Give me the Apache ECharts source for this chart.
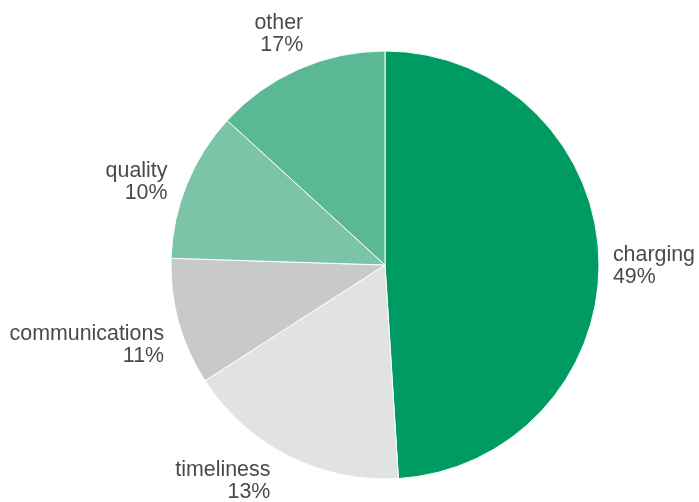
<!DOCTYPE html>
<html>
<head>
<meta charset="utf-8">
<script src="https://cdn.jsdelivr.net/npm/echarts@6/dist/echarts.min.js"></script>
<style>
html, body { margin: 0; padding: 0; background: #ffffff; }
#chart { width: 699px; height: 502px; }
</style>
</head>
<body>
<div id="chart"></div>
<script>
// Slice categories, clockwise from 12 o'clock
var categories = ['charging', 'timeliness', 'communications', 'quality', 'other'];
var sliceValues = [49, 16.9, 9.6, 11.3, 13.2];
// Percentage text printed next to each slice in the original
var percentLabels = ['49%', '13%', '11%', '10%', '17%'];

var colors = ['#009a63', '#e1e2e3', '#c8c9cb', '#7cc4a7', '#5ab895'];
// Small nudges of each label from the library's default outside position
var labelNudge = [[0, 8], [-9, 17], [-1, 21], [-6, 1], [13, -27]];

var chart = echarts.init(document.getElementById('chart'), null, { renderer: 'canvas' });

var data = categories.map(function (name, i) {
  return { name: name, value: sliceValues[i], itemStyle: { color: colors[i] } };
});

chart.setOption({
  animation: false,
  backgroundColor: '#ffffff',
  series: [{
    type: 'pie',
    center: [385, 265],
    radius: 214,
    startAngle: 90,
    clockwise: true,
    avoidLabelOverlap: false,
    data: data,
    itemStyle: { borderColor: '#ffffff', borderWidth: 1 },
    label: {
      show: true,
      position: 'outside',
      formatter: function (p) { return p.name + '\n' + percentLabels[p.dataIndex]; },
      fontFamily: 'Liberation Sans',
      fontSize: 21.4,
      lineHeight: 22,
      color: '#4a4a4a',
      distanceToLabelLine: 5
    },
    labelLine: { show: false, length: 9, length2: 0 },
    labelLayout: function (params) {
      var n = labelNudge[params.dataIndex];
      return { dx: n[0], dy: n[1] };
    },
    emphasis: { disabled: true }
  }]
});
</script>
</body>
</html>
